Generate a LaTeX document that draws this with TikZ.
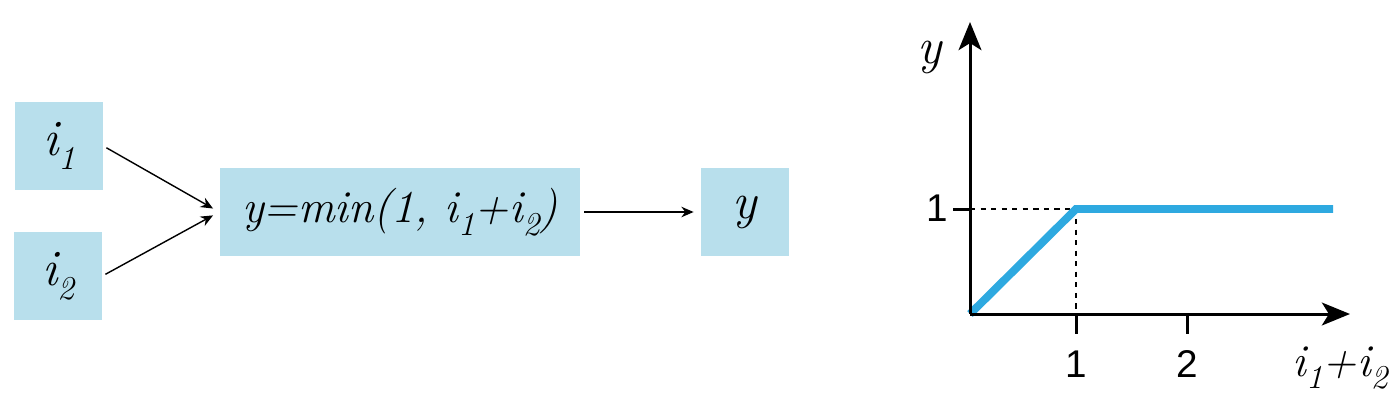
\documentclass[tikz,border=0pt]{standalone}
\usepackage{fontspec}
\newfontfamily\ticksfont{Liberation Sans}
\usetikzlibrary{arrows.meta}
\definecolor{boxblue}{HTML}{B8DFEC}
\definecolor{lineblue}{HTML}{2EA9E0}
\newcommand{\sub}[1]{\raisebox{-0.28em}{\fontsize{19}{23}\selectfont #1}}
\tikzset{
    block/.style={rectangle, minimum width=1.76cm, minimum height=1.76cm, inner sep=0pt, text centered, fill=boxblue, font=\fontsize{29}{35}\selectfont\rmfamily\itshape},
    arrow/.style={line width=0.8pt, -{Stealth[length=7pt, width=6pt]}, shorten <=2pt, shorten >=4pt},
    axis/.style={line width=1.7pt, -{Stealth[length=16pt, width=13pt, inset=4pt]}},
    tickmark/.style={line width=1.7pt},
    guide/.style={dashed, line width=0.6pt},
    curve/.style={line width=4.5pt, lineblue},
    ticklabel/.style={font=\fontsize{22}{26}\selectfont\ticksfont},
    axislabel/.style={font=\fontsize{29}{35}\selectfont\rmfamily\itshape}
}

\begin{document}
\begin{tikzpicture}[x=0.02cm, y=-0.02cm]
    \useasboundingbox (0,0) rectangle (1400,400);

    % block diagram
    \node (in1) [block] at (59,146) {i\sub{1}};
    \node (in2) [block] at (58,276) {i\sub{2}};
    \node (func) [block, minimum width=7.22cm, font=\fontsize{26}{31}\selectfont\rmfamily\itshape] at (400,212) {y=min(1, i\sub{1}+i\sub{2})};
    \node (out) [block] at (745,212) {y};

    \draw [arrow] (in1.east) -- (func.west);
    \draw [arrow] (in2.east) -- (func.west);
    \draw [arrow] (func.east) -- (out.west);

    % graph
    \coordinate (o) at (970,314);
    \coordinate (ytip) at (970,22);
    \coordinate (xtip) at (1350,314);
    \coordinate (knee) at (1076,209);
    \coordinate (yone) at (970,209);
    \coordinate (xone) at (1076,314);
    \coordinate (xtwo) at (1187,314);
    \coordinate (cend) at (1333,209);

    \draw [guide] (yone) -- (knee) -- (xone);
    \draw [curve] (o) -- (knee) -- (cend);
    \draw [axis] (o) -- (ytip);
    \draw [axis] (o) -- (xtip);
    \draw [tickmark] (yone) -- ++(-17,0);
    \draw [tickmark] (xone) -- ++(0,20);
    \draw [tickmark] (xtwo) -- ++(0,20);

    \node (ylab) [axislabel] at (930,57) {y};
    \node (xlab) [axislabel, font=\fontsize{26}{31}\selectfont\rmfamily\itshape] at (1340,368) {i\sub{1}+i\sub{2}};
    \node (lone) [ticklabel] at (937,208) {1};
    \node (tone) [ticklabel] at (1076,364) {1};
    \node (ttwo) [ticklabel] at (1187,364) {2};

\end{tikzpicture}
\end{document}
